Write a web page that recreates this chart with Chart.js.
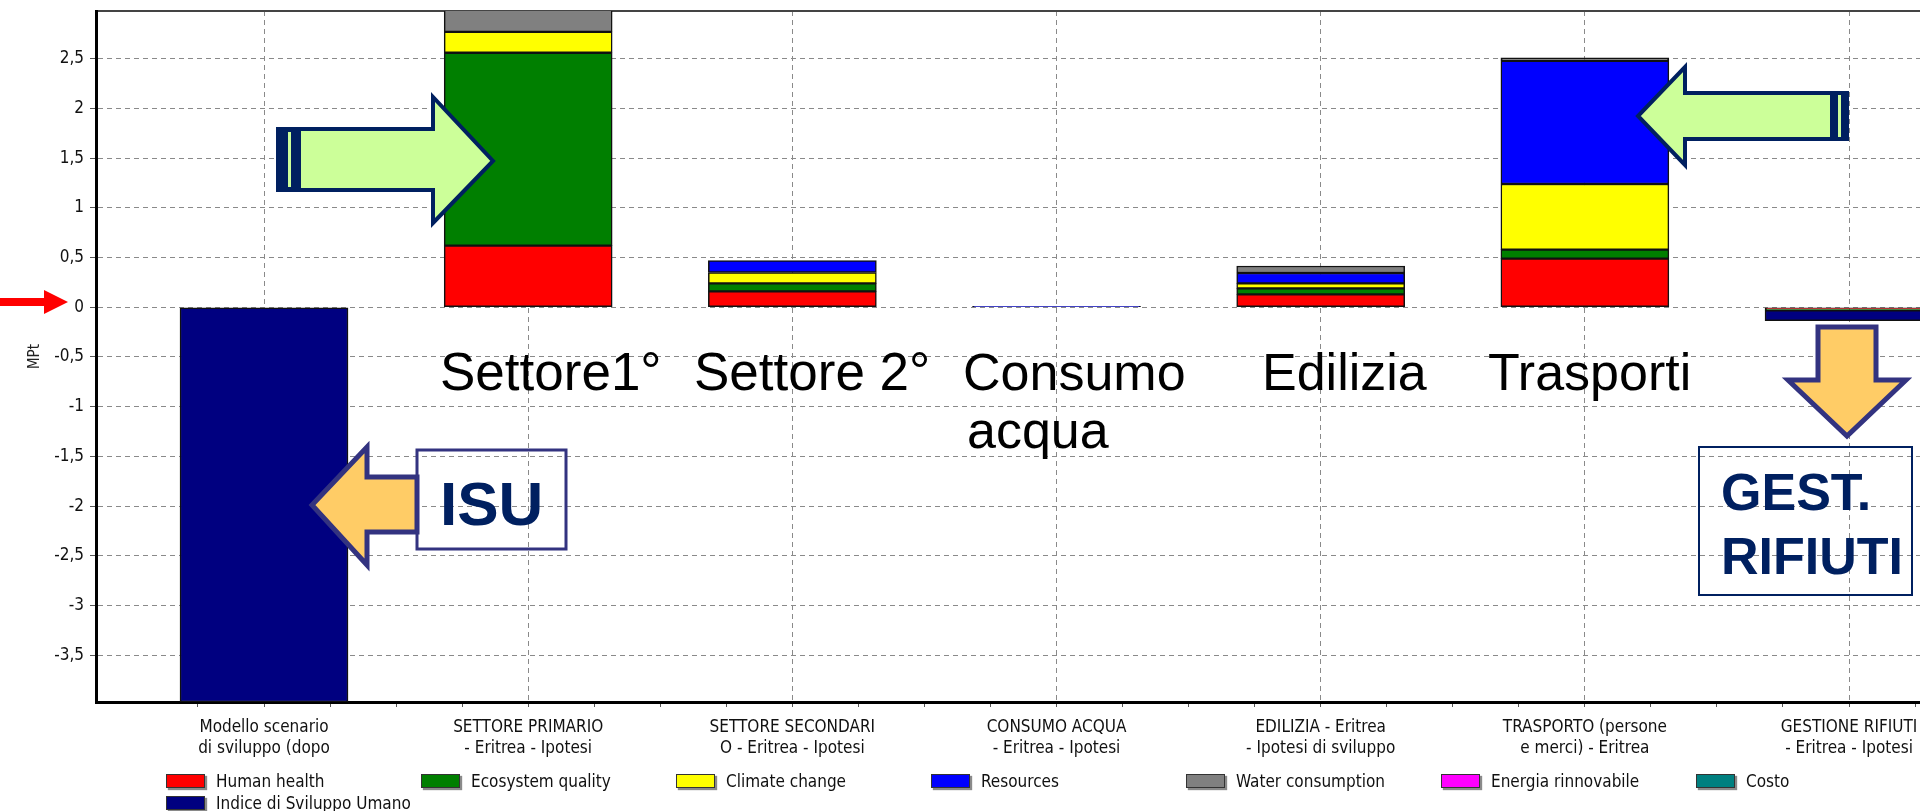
<!DOCTYPE html>
<html>
<head>
<meta charset="utf-8">
<script src="https://cdn.jsdelivr.net/npm/chart.js@4.4.1/dist/chart.umd.min.js"></script>
<style>
  html, body { margin: 0; padding: 0; background: #fff; overflow: hidden; }
  #wrap { position: relative; width: 1920px; height: 811px; overflow: hidden; }
  #grafico { position: absolute; left: 0; top: 0; }
  #legenda { position: absolute; left: 0; top: 0; width: 1920px; height: 811px; pointer-events: none;
    font-family: 'DejaVu Sans Condensed', 'DejaVu Sans', sans-serif; font-size: 17px; color: #111; }
  .voce { position: absolute; height: 16px; line-height: 16px; white-space: nowrap; }
  .quadro { display: inline-block; width: 37px; height: 12px; border: 1px solid #333;
    box-shadow: 2px 2px 1px #8a8a8a; vertical-align: middle; margin-right: 11px; margin-top: -3px; }
  #note { position: absolute; left: 0; top: 0; pointer-events: none; }
  #note text { font-family: 'Liberation Sans', Arial, sans-serif; }
</style>
</head>
<body>
<div id="wrap">
  <canvas id="grafico" width="2100" height="811"></canvas>
  <div id="legenda"></div>
  <svg id="note" width="1920" height="811" viewBox="0 0 1920 811">
    <!-- freccia rossa sullo zero -->
    <polygon points="0,298 44,298 44,290 68,302 44,314 44,306 0,306" fill="#ff0000"/>

    <!-- freccia verde verso settore primario -->
    <polygon points="299,129 433,129 433,97 493,161 433,223 433,190 299,190" fill="#ccff99" stroke="#002060" stroke-width="4"/>
    <rect x="276" y="127" width="24" height="65" fill="#002060"/>
    <rect x="288" y="132" width="3" height="55" fill="#ccff99"/>

    <!-- freccia verde verso trasporti -->
    <polygon points="1832,93 1685,93 1685,67 1638,116 1685,165 1685,139 1832,139" fill="#ccff99" stroke="#002060" stroke-width="4"/>
    <rect x="1832" y="91" width="17" height="50" fill="#002060"/>
    <rect x="1838" y="95" width="3" height="42" fill="#ccff99"/>

    <!-- ISU -->
    <polygon points="417,477 367,477 367,447 312,505 367,565 367,532 417,532" fill="#ffcc66" stroke="#333380" stroke-width="5"/>
    <rect x="417" y="450" width="149" height="99" fill="none" stroke="#333380" stroke-width="3"/>
    <text x="440" y="525" font-size="62" font-weight="bold" fill="#002060">ISU</text>

    <!-- gestione rifiuti -->
    <polygon points="1818,327 1876,327 1876,380 1906,380 1847,436 1788,380 1818,380" fill="#ffcc66" stroke="#333380" stroke-width="5"/>
    <rect x="1699" y="447" width="213" height="148" fill="none" stroke="#002060" stroke-width="2"/>
    <text x="1721" y="510" font-size="52" font-weight="bold" fill="#002060">GEST.</text>
    <text x="1721" y="574" font-size="52" font-weight="bold" fill="#002060">RIFIUTI</text>

    <!-- scritte sui settori -->
    <text x="440" y="390" font-size="53" fill="#000">Settore1°</text>
    <text x="694" y="390" font-size="53" fill="#000">Settore 2°</text>
    <text x="963" y="390" font-size="52" fill="#000">Consumo</text>
    <text x="967" y="448" font-size="52" fill="#000">acqua</text>
    <text x="1262" y="390" font-size="52" fill="#000">Edilizia</text>
    <text x="1488" y="390" font-size="52" fill="#000">Trasporti</text>
  </svg>
</div>

<script>
var categorie = [
  ["Modello scenario", "di sviluppo (dopo"],
  ["SETTORE PRIMARIO", "- Eritrea - Ipotesi"],
  ["SETTORE SECONDARI", "O - Eritrea - Ipotesi"],
  ["CONSUMO ACQUA", "- Eritrea - Ipotesi"],
  ["EDILIZIA - Eritrea", "- Ipotesi di sviluppo"],
  ["TRASPORTO (persone", "e merci) - Eritrea"],
  ["GESTIONE RIFIUTI", "- Eritrea - Ipotesi"],
];

// valori in MPt
var human_health = [0, 0.62, 0.16, 0, 0.13, 0.49, -0.015];
var ecosystem_quality = [0, 1.94, 0.08, 0, 0.06, 0.09, -0.015];
var climate_change = [0, 0.21, 0.11, 0, 0.05, 0.66, 0];
var resources = [0, 0, 0.12, 0.01, 0.105, 1.24, 0];
var water_consumption = [0, 0.25, 0, 0, 0.07, 0.03, 0];
var energia_rinnovabile = [0, 0, 0, 0, 0, 0, 0];
var costo = [0, 0, 0, 0, 0, 0, 0];
var indice_sviluppo = [-3.97, 0, 0, 0, 0, 0, -0.105];

var nomi_serie = ["Human health", "Ecosystem quality", "Climate change", "Resources",
  "Water consumption", "Energia rinnovabile", "Costo", "Indice di Sviluppo Umano"];
var colori_serie = ["#ff0000", "#007f00", "#ffff00", "#0000ff", "#808080", "#ff00ff", "#008080", "#000080"];
var valori_serie = [human_health, ecosystem_quality, climate_change, resources,
  water_consumption, energia_rinnovabile, costo, indice_sviluppo];

var y_min = -3.97;
var y_max = 2.98;

var fonte = "'DejaVu Sans Condensed', 'DejaVu Sans', sans-serif";

function multiplo(v, passo) {
  var r = v / passo;
  return Math.abs(r - Math.round(r)) < 1e-6;
}

var datasets = [];
for (var s = 0; s < nomi_serie.length; s++) {
  var punti = [];
  for (var i = 0; i < categorie.length; i++) {
    punti.push({ x: i, y: valori_serie[s][i] === 0 ? null : valori_serie[s][i] });
  }
  datasets.push({
    label: nomi_serie[s],
    data: punti,
    backgroundColor: colori_serie[s],
    borderColor: "#111",
    borderWidth: 1.5,
    borderSkipped: false,
    barThickness: 168,
    grouped: false,
  });
}

var ctx = document.getElementById("grafico");
var grafico = new Chart(ctx, {
  type: "bar",
  data: { datasets: datasets },
  options: {
    responsive: false,
    animation: false,
    layout: { padding: { top: 11, right: 0, bottom: 0, left: 0 } },
    plugins: { legend: { display: false }, tooltip: { enabled: false } },
    scales: {
      x: {
        type: "linear",
        offset: false,
        min: -0.636,
        max: 6.95,
        afterFit: function (scale) {
          scale.height = 109;
          scale.paddingLeft = 0;
          scale.paddingRight = 0;
        },
        afterBuildTicks: function (scale) {
          scale.ticks = scale.ticks.filter(function (t) {
            return multiplo(t.value, 0.25) && t.value > scale.min && t.value < scale.max;
          });
        },
        ticks: {
          stepSize: 0.25,
          autoSkip: false,
          maxRotation: 0,
          minRotation: 0,
          padding: 10,
          color: "#111",
          font: { family: fonte, size: 17, lineHeight: 1.22 },
          callback: function (v) {
            if (multiplo(v, 1) && categorie[Math.round(v)]) return categorie[Math.round(v)];
            return "";
          },
        },
        grid: {
          offset: false,
          color: function (c) {
            return c.tick && multiplo(c.tick.value, 1) ? "#8a8a8a" : "rgba(0,0,0,0)";
          },
          tickColor: "#555",
          tickLength: 5,
          lineWidth: 1,
        },
        border: { display: true, color: "#000", width: 3, dash: [5, 4] },
      },
      x2: {
        type: "linear",
        position: "top",
        offset: false,
        min: 0,
        max: 1,
        afterFit: function (scale) { scale.height = 0; },
        ticks: { display: false },
        grid: { display: false, drawTicks: false },
        border: { display: true, color: "#444", width: 2 },
      },
      y: {
        stacked: true,
        min: y_min,
        max: y_max,
        afterFit: function (scale) {
          scale.width = 96;
          scale.paddingTop = 0;
          scale.paddingBottom = 0;
        },
        afterBuildTicks: function (scale) {
          scale.ticks = scale.ticks.filter(function (t) { return multiplo(t.value, 0.5); });
        },
        ticks: {
          stepSize: 0.5,
          padding: 6,
          color: "#111",
          font: { family: fonte, size: 17 },
          callback: function (v) { return String(Math.round(v * 10) / 10).replace(".", ","); },
        },
        grid: { color: "#8a8a8a", tickColor: "#555", tickLength: 6, lineWidth: 1 },
        border: { display: true, color: "#000", width: 3, dash: [5, 4] },
        title: {
          display: true,
          text: "MPt",
          color: "#222",
          font: { family: fonte, size: 15 },
          padding: { top: 26, bottom: 0 },
        },
      },
    },
  },
});

// legenda a colonne sotto il grafico
var legenda = document.getElementById("legenda");
for (var k = 0; k < nomi_serie.length; k++) {
  var voce = document.createElement("div");
  voce.className = "voce";
  var riga = k < 7 ? 0 : 1;
  var colonna = k < 7 ? k : 0;
  voce.style.left = (166 + colonna * 255) + "px";
  voce.style.top = (773 + riga * 22) + "px";
  voce.innerHTML = '<span class="quadro" style="background:' + colori_serie[k] + '"></span>' + nomi_serie[k];
  legenda.appendChild(voce);
}
</script>
</body>
</html>
